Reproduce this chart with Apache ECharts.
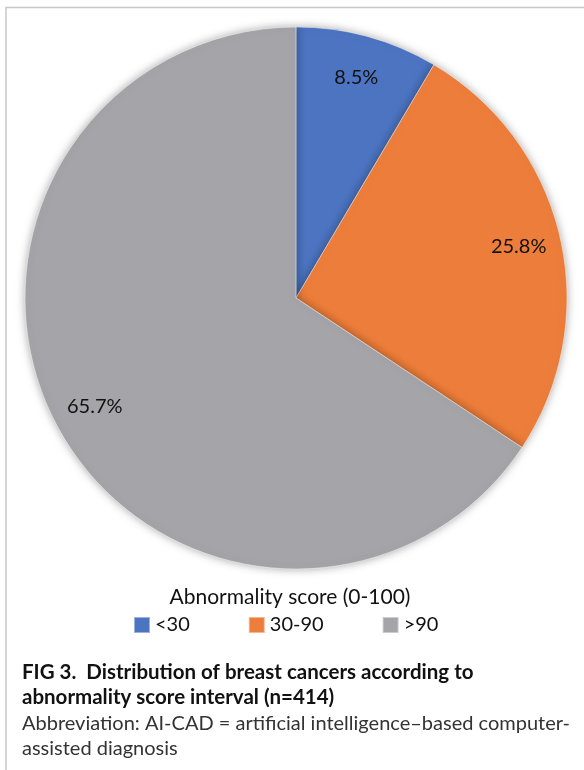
<!DOCTYPE html>
<html>
<head>
<meta charset="utf-8">
<script src="https://cdn.jsdelivr.net/npm/echarts@6/dist/echarts.min.js"></script>
<style>
    html, body { margin: 0; padding: 0; background: #fff; }
    #main { width: 584px; height: 770px; }
</style>
</head>
<body>
<div id="main"></div>
<script type="text/javascript">
    // 数据
    var categories = ['<30', '30-90', '>90'];
    var shares = [8.5, 25.8, 65.7];
    var colors = ['#4C74C1', '#ED7D3A', '#A5A5A9'];
    var legendTitle = 'Abnormality score (0-100)';
    var captionBold = ['FIG 3.  Distribution of breast cancers according to', 'abnormality score interval (n=414)'];
    var captionLight = ['Abbreviation: AI-CAD = artificial intelligence\u2013based computer-', 'assisted diagnosis'];

    var font = 'Lato, "Open Sans", sans-serif';

    var pieData = categories.map(function (c, i) {
        return { name: c, value: shares[i], itemStyle: { color: colors[i] } };
    });
    var labelData = categories.map(function (c, i) {
        return { name: c, value: shares[i] };
    });

    var myChart = echarts.init(document.getElementById('main'));

    var option = {
        animation: false,
        textStyle: { fontFamily: font },
        title: [{
            text: legendTitle,
            left: 290, top: 587, textAlign: 'center', padding: 0,
            textStyle: { fontSize: 21, fontWeight: 'normal', color: '#111', fontFamily: font }
        }, {
            text: captionBold.join('\n'),
            left: 22, top: 660, padding: 0,
            textStyle: { fontSize: 20.5, fontWeight: 'bold', color: '#111', lineHeight: 25, fontFamily: font }
        }, {
            text: captionLight.join('\n'),
            left: 22, top: 711, padding: 0,
            textStyle: { fontSize: 20, fontWeight: 'normal', color: '#333', lineHeight: 25, fontFamily: font }
        }],
        legend: {
            data: categories,
            left: 133, top: 615, padding: 0,
            icon: 'rect',
            itemWidth: 16, itemHeight: 16,
            itemGap: 58,
            textStyle: { fontSize: 20, color: '#111', fontFamily: font }
        },
        graphic: [{
            type: 'polyline',
            shape: { points: [[6, 770], [6, 7.5], [584, 7.5]] },
            style: { stroke: '#c8c8c8', lineWidth: 1.5, fill: null },
            silent: true
        }],
        series: [{
            type: 'pie',
            center: [296, 298],
            radius: 271,
            startAngle: 90,
            clockwise: true,
            label: { show: false },
            labelLine: { show: false },
            itemStyle: {
                borderColor: 'rgba(255,255,255,0.45)', borderWidth: 1,
                shadowBlur: 10, shadowColor: 'rgba(0,0,0,0.35)'
            },
            emphasis: { disabled: true },
            data: pieData
        }, {
            // 标签层
            type: 'pie',
            center: [296, 298],
            radius: [180, 271],
            startAngle: 90,
            clockwise: true,
            silent: true,
            legendHoverLink: false,
            itemStyle: { color: 'rgba(0,0,0,0)', borderWidth: 0 },
            label: {
                show: true, position: 'inside',
                formatter: function (p) { return p.value.toFixed(1) + '%'; },
                fontSize: 20, color: '#111', fontFamily: font
            },
            labelLine: { show: false },
            emphasis: { disabled: true },
            data: labelData
        }]
    };
    myChart.setOption(option);
</script>
</body>
</html>
